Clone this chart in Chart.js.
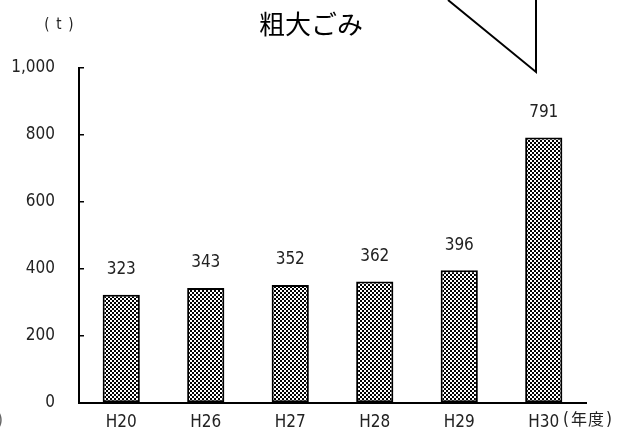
<!DOCTYPE html>
<html>
<head>
<meta charset="utf-8"/>
<title>粗大ごみ</title>
<script src="https://cdn.jsdelivr.net/npm/chart.js@4.4.1/dist/chart.umd.min.js"></script>
<style>
    html, body { margin: 0; padding: 0; background: #fff; }
</style>
</head>
<body>
<canvas id="chart" width="618" height="434"></canvas>

<script>
var years = ['H20', 'H26', 'H27', 'H28', 'H29', 'H30'];
var tons = [323, 343, 352, 362, 396, 791];
var yTickLabels = ['0', '200', '400', '600', '800', '1,000'];

var numFont = "'Liberation Sans Narrow', 'DejaVu Sans Condensed', sans-serif";
var jpFont = "'Noto Sans CJK JP', sans-serif";

// small black/white checker used as bar fill
function checker() {
    var c = document.createElement('canvas');
    c.width = 4; c.height = 4;
    var g = c.getContext('2d');
    g.fillStyle = '#fff';
    g.fillRect(0, 0, 4, 4);
    g.fillStyle = '#000';
    g.fillRect(0, 0, 2, 2);
    g.fillRect(2, 2, 2, 2);
    return g.createPattern(c, 'repeat');
}

// draws a string one character at a time at the given centres
function spaced(ctx, chars, xs, y) {
    for (var i = 0; i < chars.length; i++) {
        ctx.fillText(chars[i], xs[i], y);
    }
}

var extras = {
    id: 'extras',
    afterDatasetsDraw: function(chart) {
        var ctx = chart.ctx;
        var meta = chart.getDatasetMeta(0);
        ctx.save();
        ctx.fillStyle = '#222';
        ctx.font = '17px ' + numFont;
        ctx.textAlign = 'center';
        ctx.textBaseline = 'middle';
        meta.data.forEach(function(bar, i) {
            ctx.fillText(tons[i], bar.x, bar.y - 25);
        });
        ctx.restore();
    },
    afterDraw: function(chart) {
        var ctx = chart.ctx;
        ctx.save();
        ctx.fillStyle = '#000';
        ctx.textBaseline = 'middle';
        ctx.textAlign = 'center';
        ctx.font = '26px ' + jpFont;
        ctx.fillText('粗大ごみ', 311, 24);

        // unit
        ctx.fillStyle = '#222';
        ctx.font = '15px ' + numFont;
        spaced(ctx, ['(', 't', ')'], [47, 59, 71], 25);

        // year suffix after the last category
        ctx.font = '17px ' + numFont;
        spaced(ctx, ['(', ')'], [566, 609], 421);
        ctx.font = '16px ' + jpFont;
        spaced(ctx, ['年', '度'], [579, 596], 419);

        ctx.fillStyle = '#666';
        ctx.textAlign = 'left';
        ctx.font = '17px ' + numFont;
        ctx.fillText(')', -3, 422);

        // callout outline
        ctx.strokeStyle = '#000';
        ctx.lineWidth = 2;
        ctx.beginPath();
        ctx.moveTo(448, 0);
        ctx.lineTo(536, 72);
        ctx.lineTo(536, 0);
        ctx.stroke();
        ctx.restore();
    }
};

var ctx = document.getElementById('chart');
var myChart = new Chart(ctx, {
    type: 'bar',
    data: {
        labels: years,
        datasets: [{
            data: tons,
            backgroundColor: checker(),
            borderColor: '#000',
            borderWidth: 2,
            borderSkipped: false,
            barPercentage: 0.44,
            categoryPercentage: 1
        }]
    },
    options: {
        responsive: false,
        animation: false,
        layout: { padding: { left: 0, top: 67.5, right: 32, bottom: 0 } },
        plugins: {
            legend: { display: false },
            title: { display: false },
            tooltip: { enabled: false }
        },
        scales: {
            x: {
                afterFit: function(scale) { scale.height = 31; },
                grid: { drawOnChartArea: false, drawTicks: false },
                border: { display: true, color: '#000', width: 2 },
                ticks: {
                    color: '#222',
                    padding: 9,
                    font: { family: numFont, size: 17 }
                }
            },
            y: {
                min: 0,
                max: 1000,
                afterFit: function(scale) {
                    // fixed axis width; keep the wide label gap from padding the plot vertically
                    scale.width = 79;
                    scale.paddingTop = 0;
                    scale.paddingBottom = 0;
                },
                grid: { drawOnChartArea: false, drawTicks: true, tickLength: -5, color: '#000', lineWidth: 1.5 },
                border: { display: true, color: '#000', width: 2 },
                ticks: {
                    stepSize: 200,
                    color: '#222',
                    padding: 29,
                    font: { family: numFont, size: 17 },
                    callback: function(value, index) { return yTickLabels[index]; }
                }
            }
        }
    },
    plugins: [extras]
});
</script>
</body>
</html>
